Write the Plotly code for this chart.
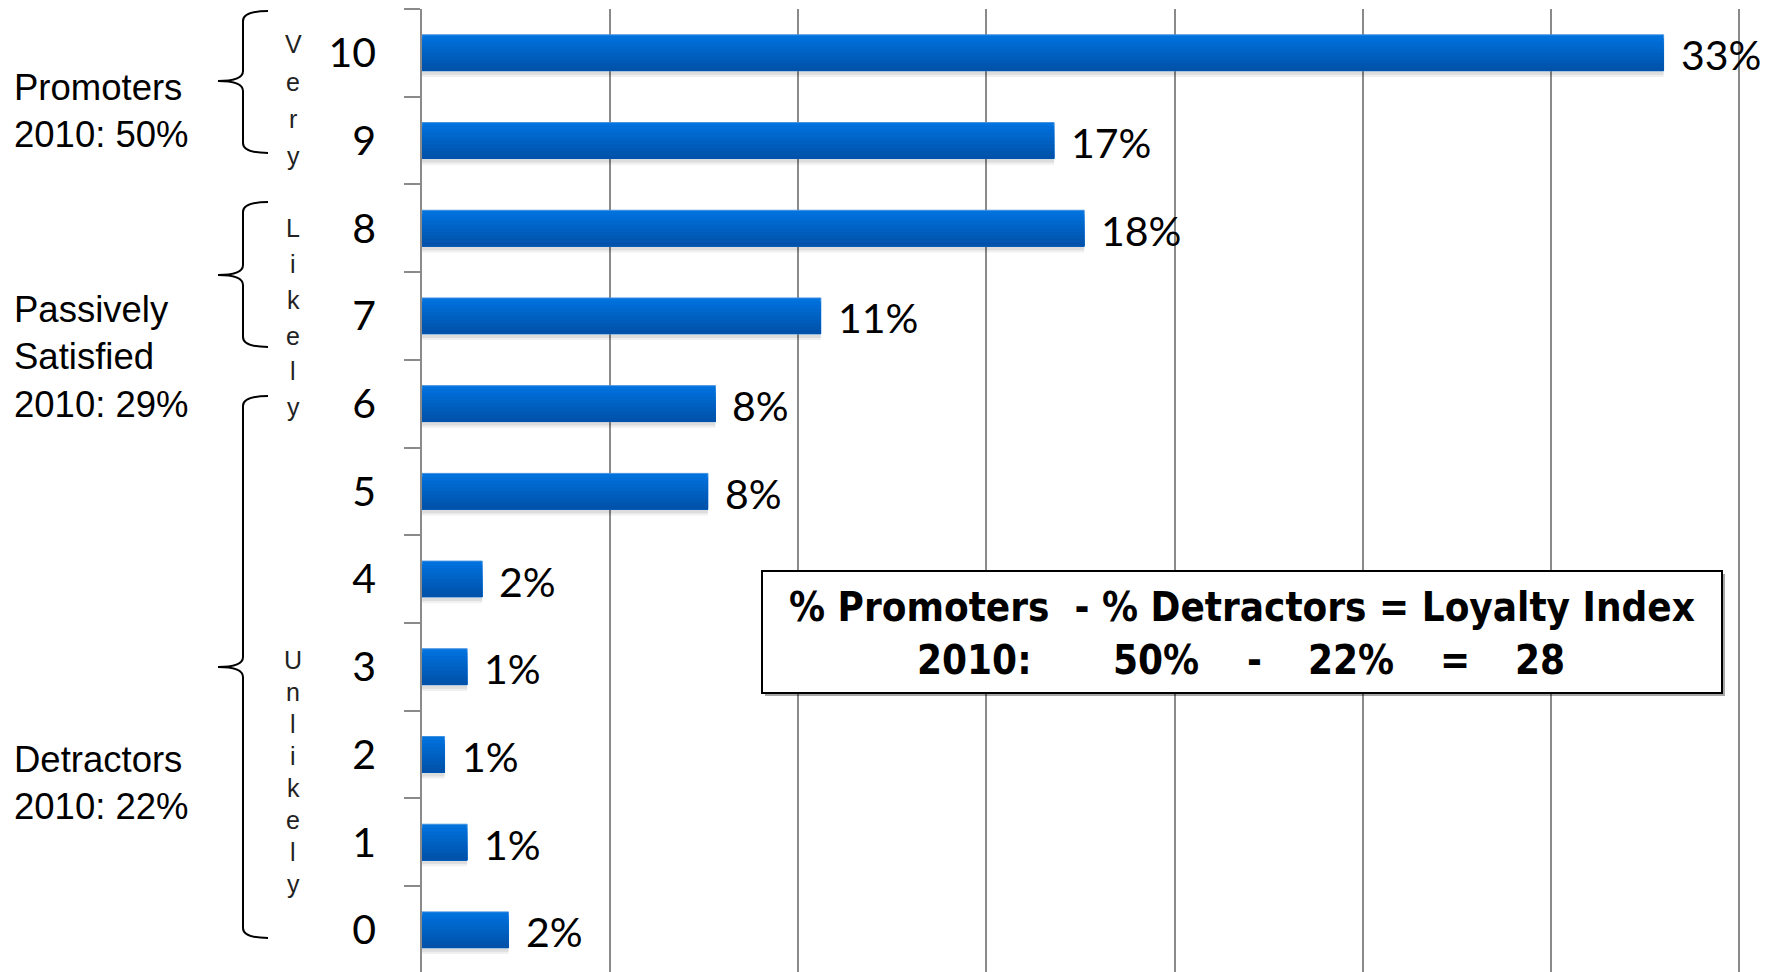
import plotly.graph_objects as go

# ---------------- data ----------------
scores = [0, 1, 2, 3, 4, 5, 6, 7, 8, 9, 10]
score_labels = ["0", "1", "2", "3", "4", "5", "6", "7", "8", "9", "10"]
shares = [2.3, 1.2, 0.6, 1.2, 1.6, 7.6, 7.8, 10.6, 17.6, 16.8, 33.0]
share_labels = ["2%", "1%", "1%", "1%", "2%", "8%", "8%", "11%", "18%", "17%", "33%"]

group_labels = ["Promoters<br>2010: 50%",
                "Passively<br>Satisfied<br>2010: 29%",
                "Detractors<br>2010: 22%"]
side_words = ["Very", "Likely", "Unlikely"]
index_line1 = "% Promoters  - % Detractors = Loyalty Index"
index_line2 = ["2010:", "50%", "-", "22%", "=", "28"]

# ---------------- geometry helpers (pixels -> paper) ----------------
W, H = 1779, 972
L, R, T, B = 422, 39, 9, 0
PW, PH = W - L - R, H - T - B


def px(x):
    return (x - L) / PW


def py(y):
    return (H - B - y) / PH


BAR_W = 0.41
TOP_C = (0, 114, 222)
BOT_C = (0, 82, 170)

fig = go.Figure()

# shadow
for k, (dy, a) in enumerate([(0.07, 0.06), (0.045, 0.08)]):
    fig.add_trace(go.Bar(
        x=shares, y=scores, orientation="h",
        width=BAR_W, offset=-BAR_W / 2 - dy,
        marker=dict(color=f"rgba(0,0,0,{a})", line=dict(width=0)),
        hoverinfo="skip", showlegend=False))

# gradient-filled bars (layered)
N = 10
for k in range(N):
    t = k / (N - 1)
    c = tuple(int(TOP_C[i] + (BOT_C[i] - TOP_C[i]) * t) for i in range(3))
    w = BAR_W * (1 - k / N)
    fig.add_trace(go.Bar(
        x=shares, y=scores, orientation="h",
        width=w, offset=-BAR_W / 2,
        marker=dict(color=f"rgb{c}",
                    line=dict(width=1 if k == 0 else 0, color="#3f8fe0")),
        hoverinfo="skip", showlegend=False))

annotations = []
# value labels
for v, s, lab in zip(shares, scores, share_labels):
    annotations.append(dict(
        x=v, y=s, xref="x", yref="y", text=lab, showarrow=False,
        xanchor="left", yanchor="middle", xshift=15, yshift=-2,
        font=dict(family="Lato, Carlito, Open Sans, sans-serif", size=41, color="black")))

# group labels on the left
group_centers = [111, 357, 783]
for txt, yc in zip(group_labels, group_centers):
    annotations.append(dict(
        x=px(12), y=py(yc), xref="paper", yref="paper", text=txt,
        showarrow=False, xanchor="left", yanchor="middle", align="left",
        font=dict(family="Liberation Sans, Arial, sans-serif", size=36.5, color="black")))

# vertical words
word_ys = [[44, 82, 119, 156],
           [228, 264, 300, 336, 371, 407],
           [660, 692, 724, 756, 788, 820, 852, 884]]
for word, ys in zip(side_words, word_ys):
    for ch, yy in zip(word, ys):
        annotations.append(dict(
            x=px(293), y=py(yy), xref="paper", yref="paper", text=ch,
            showarrow=False, xanchor="center", yanchor="middle",
            font=dict(family="Liberation Sans, Arial, sans-serif", size=25, color="#222")))

# loyalty index box text
BOXFONT = "Liberation Sans Narrow, Arial Narrow, DejaVu Sans Condensed, sans-serif"
annotations.append(dict(
    x=px(1242), y=py(607), xref="paper", yref="paper",
    text="<b>" + index_line1.replace("  ", "&nbsp; ") + "</b>",
    showarrow=False, xanchor="center", yanchor="middle",
    font=dict(family=BOXFONT, size=40, color="black")))
tok_x = [974, 1156, 1254, 1351, 1455, 1540]
for tok, xx in zip(index_line2, tok_x):
    annotations.append(dict(
        x=px(xx), y=py(660), xref="paper", yref="paper", text="<b>" + tok + "</b>",
        showarrow=False, xanchor="center", yanchor="middle",
        font=dict(family=BOXFONT, size=40, color="black")))

shapes = []


def brace(xe, xm, xt, yt, ytip, yb, r=10):
    P = lambda x, y: f"{px(x)},{py(y)}"
    return (f"M {P(xe, yt)} Q {P(xm, yt)} {P(xm, yt + r)} "
            f"L {P(xm, ytip - r)} Q {P(xm, ytip)} {P(xt, ytip)} "
            f"Q {P(xm, ytip)} {P(xm, ytip + r)} "
            f"L {P(xm, yb - r)} Q {P(xm, yb)} {P(xe, yb)}")


for (yt, ytip, yb) in [(11, 81, 153), (202, 275, 347), (396, 667, 938)]:
    shapes.append(dict(type="path", xref="paper", yref="paper",
                       path=brace(268, 243, 218, yt, ytip, yb),
                       line=dict(color="black", width=2)))

# box with shadow
shapes.append(dict(type="rect", xref="paper", yref="paper",
                   x0=px(765), x1=px(1725), y0=py(574), y1=py(696),
                   fillcolor="rgba(0,0,0,0.35)", line=dict(width=0), layer="above"))
shapes.append(dict(type="rect", xref="paper", yref="paper",
                   x0=px(762), x1=px(1722), y0=py(571), y1=py(693),
                   fillcolor="white", line=dict(color="black", width=2), layer="above"))

fig.update_layout(
    width=W, height=H,
    margin=dict(l=L, r=R, t=T, b=B, pad=0),
    paper_bgcolor="white", plot_bgcolor="white",
    barmode="overlay", showlegend=False,
    shapes=shapes, annotations=annotations,
    xaxis=dict(range=[0, 35.03], tickmode="linear", tick0=0, dtick=5,
               showticklabels=False, ticks="", showgrid=True,
               gridcolor="#8a8a8a", gridwidth=1.5, zeroline=False,
               showline=False, fixedrange=True),
    yaxis=dict(range=[-0.48, 10.5], tickmode="array", tickvals=scores,
               ticktext=score_labels, ticks="", showgrid=False,
               zeroline=False, showline=True, linecolor="#8a8a8a", linewidth=1.5,
               ticklabelstandoff=36,
               tickfont=dict(family="Lato, Carlito, Open Sans, sans-serif", size=41, color="black"),
               minor=dict(tickmode="linear", tick0=0.5, dtick=1, ticks="outside",
                          ticklen=16, tickcolor="#8a8a8a", tickwidth=1.5, showgrid=False),
               fixedrange=True),
)

fig.write_html("out.html")
